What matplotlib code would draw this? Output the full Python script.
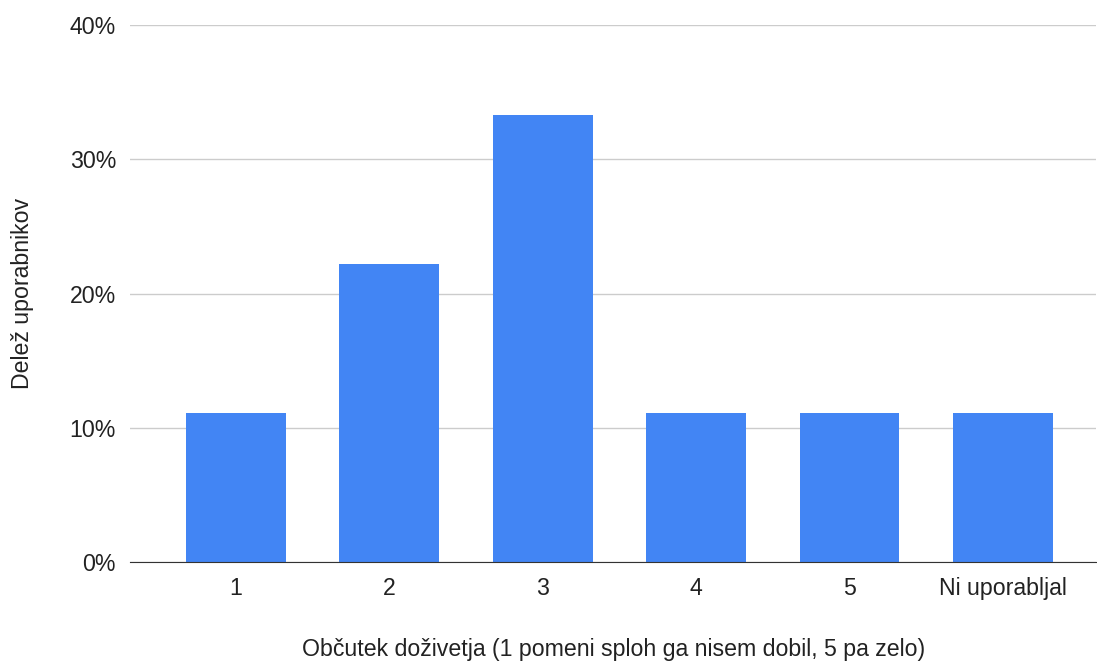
import numpy as np
import matplotlib
matplotlib.use("Agg")
import matplotlib.pyplot as plt
from matplotlib.ticker import FuncFormatter

# user responses, share of all users
categories = ['1', '2', '3', '4', '5', 'Ni uporabljal']
shares = [1/9, 2/9, 3/9, 1/9, 1/9, 1/9]
yticks = [0, 0.1, 0.2, 0.3, 0.4]

plt.rcParams['font.family'] = ['Liberation Sans', 'DejaVu Sans']
fs = 16.7

fig = plt.figure(figsize=(10.97, 6.62), dpi=100)
ax = fig.add_axes([0.1185, 0.151, 0.881, 0.811])

x = np.arange(len(categories))
ax.bar(x, shares, width=0.65, color='#4285F4', zorder=3)

ax.set_xlim(-0.69, 5.61)
ax.set_ylim(0, 0.4)
ax.set_yticks(yticks)
ax.yaxis.set_major_formatter(FuncFormatter(lambda v, p: '{:.0f}%'.format(v * 100)))
ax.set_xticks(x)
ax.set_xticklabels(categories)

ax.grid(axis='y', color='#cccccc', linewidth=1, zorder=0)
for s in ['top', 'right', 'left']:
    ax.spines[s].set_visible(False)
ax.spines['bottom'].set_color('#333333')
ax.spines['bottom'].set_zorder(4)
ax.tick_params(axis='both', length=0, labelsize=fs, colors='#222222')
ax.tick_params(axis='x', pad=11)
ax.tick_params(axis='y', pad=10)

ax.set_xlabel('Občutek doživetja (1 pomeni sploh ga nisem dobil, 5 pa zelo)',
              fontsize=fs, color='#222222', labelpad=27)
ax.set_ylabel('Delež uporabnikov', fontsize=fs, color='#222222', labelpad=26)

fig.savefig('out.png', dpi=100)
